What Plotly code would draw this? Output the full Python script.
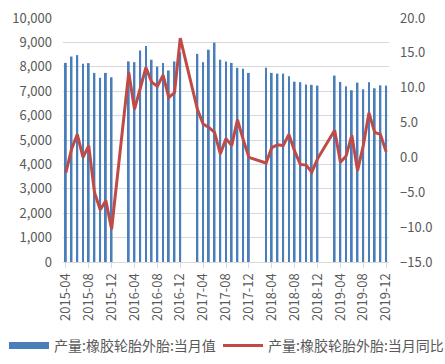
import plotly.graph_objects as go

months = [f"{y}-{m:02d}" for y in range(2015, 2020) for m in range(1, 13)]
months = months[3:]  # 2015-04 .. 2019-12

prod_2015 = [8160, 8420, 8480, 8120, 8150, 7750, 7550, 7750, 7570]
prod_2016 = [8220, 8190, 8670, 8850, 8290, 8010, 8160, 7850, 8220, 8600]
prod_2017 = [8530, 8190, 8700, 8990, 8290, 8220, 8160, 7960, 7920, 7750]
prod_2018 = [7960, 7750, 7720, 7720, 7610, 7390, 7370, 7270, 7260, 7230]
prod_2019 = [7640, 7380, 7200, 7040, 7350, 7080, 7370, 7120, 7240, 7230]

yoy_2015 = [-2.2, 1.2, 3.3, 0.0, 1.7, -5.0, -7.5, -6.2, -10.3]
yoy_2016 = [12.2, 6.9, 9.8, 12.9, 10.8, 10.2, 11.8, 8.6, 9.3, 17.1]
yoy_2017 = [6.9, 4.8, 4.3, 3.6, 0.5, 2.7, 1.7, 5.4, 2.6, 0.0]
yoy_2018 = [-0.8, 1.4, 1.8, 1.7, 3.3, 0.9, -1.0, -1.1, -2.1, -0.2]
yoy_2019 = [3.9, -0.7, 0.2, 3.2, -1.9, 1.7, 6.4, 3.6, 3.3, 0.8]

gap = [None, None]
prod = prod_2015 + gap + prod_2016 + gap + prod_2017 + gap + prod_2018 + gap + prod_2019
yoy = yoy_2015 + gap + yoy_2016 + gap + yoy_2017 + gap + yoy_2018 + gap + yoy_2019

tick_labels = months[::4]

name_bar = "产量:橡胶轮胎外胎:当月值"
name_line = "产量:橡胶轮胎外胎:当月同比"
bar_color = "#4A7EBB"
line_color = "#BE4B48"

W, H = 445, 364
font_family = "Noto Sans CJK SC"
fig = go.Figure()
fig.add_trace(go.Bar(x=months, y=prod, name=name_bar, showlegend=False,
                     legendgroup="bar",
                     marker=dict(color=bar_color, line=dict(width=0))))
# legend proxy so the bar key is drawn as a wide flat block like the original
fig.add_trace(go.Scatter(x=[None], y=[None], name=name_bar, mode="lines",
                         legendgroup="bar", legend="legend",
                         line=dict(color=bar_color, width=7)))
fig.add_trace(go.Scatter(x=months, y=yoy, name=name_line, legend="legend2",
                         mode="lines", connectgaps=True, yaxis="y2",
                         line=dict(color=line_color, width=3)))

fig.update_layout(
    width=W, height=H,
    margin=dict(l=63, r=56, t=18, b=102, autoexpand=False),
    paper_bgcolor="white", plot_bgcolor="white",
    font=dict(family=font_family, size=13, color="#595959"),
    bargap=0.68,
    showlegend=True,
    legend=dict(orientation="h", xref="container", yref="container",
                x=4 / W, y=(H - 346) / H, xanchor="left", yanchor="middle",
                font=dict(size=14, color="#595959"), itemwidth=40,
                bgcolor="rgba(0,0,0,0)"),
    legend2=dict(orientation="h", xref="container", yref="container",
                 x=218 / W, y=(H - 346) / H, xanchor="left", yanchor="middle",
                 font=dict(size=14, color="#595959"), itemwidth=40,
                 bgcolor="rgba(0,0,0,0)"),
    xaxis=dict(type="category", categoryorder="array", categoryarray=months,
               tickmode="array", tickvals=tick_labels, ticktext=tick_labels,
               tickangle=-90, showgrid=False, showline=True, automargin=False,
               linecolor="#D9D9D9", linewidth=1, ticks="outside",
               tickcolor="#D9D9D9", ticklen=5, range=[-0.5, len(months) - 0.5],
               tickfont=dict(size=13)),
    yaxis=dict(range=[0, 10000], dtick=1000, tickformat=",d", automargin=False,
               showgrid=True, gridcolor="#D9D9D9", gridwidth=1,
               zeroline=False, showline=False, ticks="", ticklabelstandoff=10,
               tickfont=dict(size=13)),
    yaxis2=dict(range=[-15, 20], dtick=5, tickformat=".1f", overlaying="y",
                side="right", showgrid=False, zeroline=False, showline=False,
                automargin=False, ticklabelstandoff=10,
                tickfont=dict(size=13)),
)

fig.write_html("out.html", config={"displayModeBar": False},
               post_script="document.body.style.margin='0';")
